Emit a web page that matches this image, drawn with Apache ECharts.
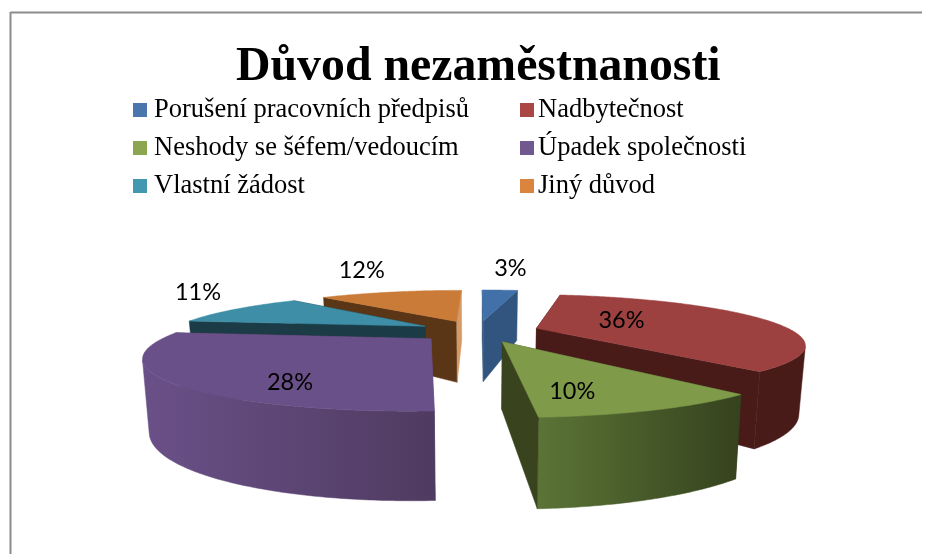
<!DOCTYPE html>
<html><head><meta charset="utf-8">
<style>html,body{margin:0;padding:0;background:#fff}#c{width:933px;height:554px}</style>
<script src="https://cdn.jsdelivr.net/npm/echarts@6/dist/echarts.min.js"></script>
</head><body><div id="c"></div>
<script>
var titleText = 'Důvod nezaměstnanosti';
var categories = ['Porušení pracovních předpisů','Nadbytečnost','Neshody se šéfem/vedoucím','Úpadek společnosti','Vlastní žádost','Jiný důvod'];
var values = [3,36,10,28,11,12];
var legendLeft = ['Porušení pracovních předpisů','Neshody se šéfem/vedoucím','Vlastní žádost'];
var legendRight = ['Nadbytečnost','Úpadek společnosti','Jiný důvod'];

var topColors  = ['#4271a9','#9c4140','#7f9a49','#6a5088','#3d8ea6','#c97b37'];
var legendColors = ['#4a76ad','#aa4644','#8ba64f','#71588f','#4198af','#db843d'];
var wallLeft   = ['#31557f','#481b19','#5b7436','#6a5088','#1b3b46','#5a3516'];
var wallRight  = ['#31557f','#481b19','#35421e','#4f3b60','#1b3b46','#5a3516'];
var startCut   = ['#31557f','#481b19','#39441f','#6a5088','#1b3b46','#5a3516'];
var endCut     = ['#31557f','#481b19','#39441f','#4f3b60','#1b3b46','#d49a66'];
var drawOrder  = [1,3,6,5,3,2];
var labelOffsets = [[27,-52],[85,-8],[70,50],[-141,44],[-227,-34],[-95,-51]];

// projection of the 3D pie
var CX=478,CY=331,K=256,B=45.2,P=0.295,H=64,EXPL=0.24,SHRINK=0.98;
function proj(u,v,z){
  var w=1+P*v;
  var f=z?SHRINK:1;
  return [CX+K*u/w*f, CY-B*v/w+(z?H/Math.pow(w,0.8):0)];
}
function quadArea(a,b,c,d){
  var p=[a,b,c,d],s=0;
  for(var i=0;i<4;i++){var q=p[(i+1)%4];s+=p[i][0]*q[1]-q[0]*p[i][1];}
  return s;
}
var total=values.reduce(function(a,b){return a+b},0);
var cum=0, slices=values.map(function(x){var s=cum;cum+=x;return {a0:s/total*2*Math.PI,a1:cum/total*2*Math.PI};});

function makeRender(i){
  return function(params,api){
    var s=slices[i], mid=(s.a0+s.a1)/2;
    var ex=EXPL*Math.sin(mid), ey=EXPL*Math.cos(mid);
    var N=Math.max(8,Math.round((s.a1-s.a0)*80));
    var arcT=[],arcB=[];
    for(var j=0;j<=N;j++){
      var t=s.a0+(s.a1-s.a0)*j/N, u=ex+Math.sin(t), v=ey+Math.cos(t);
      arcT.push(proj(u,v,0)); arcB.push(proj(u,v,1));
    }
    var apexT=proj(ex,ey,0), apexB=proj(ex,ey,1);
    var poly=function(pts,fill){return {type:'polygon',shape:{points:pts},style:{fill:fill,stroke:fill,lineWidth:0.5},silent:true};};
    var xs=arcT.concat(arcB).map(function(p){return p[0]});
    var x0=Math.min.apply(null,xs), x1=Math.max.apply(null,xs);
    var wallFill=new echarts.graphic.LinearGradient(x0,0,x1,0,[{offset:0,color:wallLeft[i]},{offset:1,color:wallRight[i]}],true);
    var startQuad=poly([apexT,arcT[0],arcB[0],apexB],startCut[i]);
    var endQuad=poly([apexT,arcT[N],arcB[N],apexB],endCut[i]);
    var startFront=Math.sin(s.a0)<0.01, endFront=Math.sin(s.a1)>-0.01;
    var kids=[];
    if(!startFront)kids.push(startQuad);
    if(!endFront)kids.push(endQuad);
    // the part of the outer wall that faces the viewer, as one polygon
    var upper=[],lower=[];
    for(var k=0;k<N;k++){
      if(quadArea(arcT[k],arcT[k+1],arcB[k+1],arcB[k])<0){
        if(!upper.length){upper.push(arcT[k]);lower.push(arcB[k]);}
        upper.push(arcT[k+1]);lower.push(arcB[k+1]);
      }
    }
    if(upper.length)kids.push(poly(upper.concat(lower.reverse()),wallFill));
    if(startFront)kids.push(startQuad);
    if(endFront)kids.push(endQuad);
    kids.push(poly([apexT].concat(arcT),topColors[i]));
    return {type:'group',children:kids};
  };
}
function labelRender(params,api){
  var i=params.dataIndex, s=slices[i], mid=(s.a0+s.a1)/2;
  var a=proj(EXPL*Math.sin(mid),EXPL*Math.cos(mid),0);
  return {type:'text',silent:true,x:a[0]+labelOffsets[i][0],y:a[1]+labelOffsets[i][1],
    style:{text:Math.round(api.value(0)/total*100)+'%',fill:'#000',font:'23.5px Lato, "Open Sans", sans-serif',align:'center',verticalAlign:'middle'}};
}
var series=categories.map(function(name,i){
  return {type:'custom',name:name,coordinateSystem:'none',z:drawOrder[i],animation:false,silent:true,
    itemStyle:{color:legendColors[i]},data:[[values[i]]],renderItem:makeRender(i)};
});
series.push({type:'custom',coordinateSystem:'none',z:20,animation:false,silent:true,
  data:values.map(function(v){return [v]}),renderItem:labelRender});

var serif='"Liberation Serif","Times New Roman",serif';
var chart=echarts.init(document.getElementById('c'),null,{renderer:'canvas'});
chart.setOption({
  animation:false,backgroundColor:'#fff',
  title:{text:titleText,left:236,top:44,textStyle:{fontFamily:serif,fontWeight:'bold',fontSize:47.8,color:'#000'},padding:0},
  legend:[
    {data:legendLeft,orient:'vertical',left:133,top:96.5,itemWidth:14,itemHeight:14,itemGap:11,icon:'rect',textStyle:{fontFamily:serif,fontSize:26.5,color:'#000',padding:[0,0,0,2]},selectedMode:false,padding:0},
    {data:legendRight,orient:'vertical',left:520,top:96.5,itemWidth:14,itemHeight:14,itemGap:11,icon:'rect',textStyle:{fontFamily:serif,fontSize:26.5,color:'#000',padding:[0,0,0,-1]},selectedMode:false,padding:0}
  ],
  graphic:[
    {type:'line',silent:true,shape:{x1:10.5,y1:12.5,x2:922,y2:12.5},style:{stroke:'#8c8c8c',lineWidth:2}},
    {type:'line',silent:true,shape:{x1:10.5,y1:12,x2:10.5,y2:554},style:{stroke:'#8c8c8c',lineWidth:2}}
  ],
  series:series
});
</script></body></html>
